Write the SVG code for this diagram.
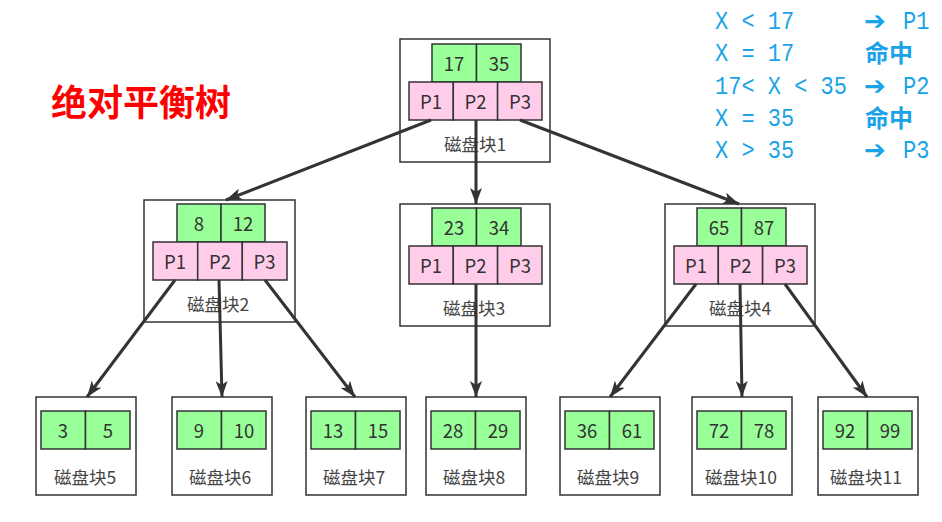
<svg xmlns="http://www.w3.org/2000/svg" width="942" height="522" viewBox="0 0 942 522">
<style>
.box{fill:#fff;stroke:#333;stroke-width:1.5}
.k{fill:#99ff99;stroke:#333;stroke-width:1.5}
.p{fill:#ffccea;stroke:#333;stroke-width:1.5}
.t{font-family:"Noto Sans CJK SC","Noto Sans",sans-serif;font-size:18.5px;fill:#333;text-anchor:middle;dominant-baseline:central}
.lb{font-family:"Noto Sans CJK SC","Noto Sans",sans-serif;font-size:17.5px;fill:#444;text-anchor:middle;dominant-baseline:central}
.c{stroke:#333;stroke-width:3;fill:none;marker-end:url(#ah)}
.lg{font-family:"Liberation Mono",monospace;font-size:22px;fill:#1aa3e8}
.ar{font-family:"DejaVu Sans",sans-serif;font-size:26px;fill:#1aa3e8}
.hz{font-family:"Noto Sans CJK SC",sans-serif;font-size:24px;font-weight:bold;fill:#1aa3e8}
</style>
<defs>
<marker id="ah" markerUnits="userSpaceOnUse" markerWidth="18" markerHeight="12" refX="16" refY="6" orient="auto">
<path d="M0,0 L16,6 L0,12 L4,6 z" fill="#333"/>
</marker>
</defs>
<rect width="942" height="522" fill="#fff"/>
<text x="51" y="116" font-family="Noto Sans CJK SC,sans-serif" font-size="36" font-weight="bold" fill="#ff0000">绝对平衡树</text>
<g id="legend">
<text class="lg" transform="translate(715,29) scale(1,1.15)" xml:space="preserve">X &lt; 17</text>
<text class="ar" x="864" y="30">➔</text>
<text class="lg" transform="translate(903,29) scale(1,1.15)">P1</text>
<text class="lg" transform="translate(715,61) scale(1,1.15)" xml:space="preserve">X = 17</text>
<text class="hz" x="865" y="62">命中</text>
<text class="lg" transform="translate(715,94) scale(1,1.15)" xml:space="preserve">17&lt; X &lt; 35</text>
<text class="ar" x="864" y="95">➔</text>
<text class="lg" transform="translate(903,94) scale(1,1.15)">P2</text>
<text class="lg" transform="translate(715,126) scale(1,1.15)" xml:space="preserve">X = 35</text>
<text class="hz" x="865" y="127">命中</text>
<text class="lg" transform="translate(715,158) scale(1,1.15)" xml:space="preserve">X &gt; 35</text>
<text class="ar" x="864" y="159">➔</text>
<text class="lg" transform="translate(903,158) scale(1,1.15)">P3</text>
</g>
<g id="node1">
<rect class="box" x="400" y="39" width="150" height="123"/>
<rect class="k" x="432" y="44" width="44.5" height="38"/><rect class="k" x="476.5" y="44" width="44.5" height="38"/>
<rect class="p" x="409" y="82" width="44.3" height="38"/><rect class="p" x="453.3" y="82" width="44.3" height="38"/><rect class="p" x="497.6" y="82" width="44.4" height="38"/>
<text class="t" x="454" y="63">17</text><text class="t" x="499" y="63">35</text>
<text class="t" x="431" y="101">P1</text><text class="t" x="475.5" y="101">P2</text><text class="t" x="520" y="101">P3</text>
<text class="lb" x="475" y="143">磁盘块1</text>
</g>
<g id="node2">
<rect class="box" x="144" y="200" width="151" height="122"/>
<rect class="k" x="177" y="204" width="44" height="38"/><rect class="k" x="221" y="204" width="44" height="38"/>
<rect class="p" x="153" y="242" width="44.7" height="38"/><rect class="p" x="197.7" y="242" width="44.6" height="38"/><rect class="p" x="242.3" y="242" width="44.7" height="38"/>
<text class="t" x="199" y="223">8</text><text class="t" x="243" y="223">12</text>
<text class="t" x="175" y="261">P1</text><text class="t" x="220" y="261">P2</text><text class="t" x="264.5" y="261">P3</text>
<text class="lb" x="218" y="303">磁盘块2</text>
</g>
<g id="node3">
<rect class="box" x="400" y="204" width="150" height="122"/>
<rect class="k" x="432" y="208" width="44.5" height="38"/><rect class="k" x="476.5" y="208" width="44.5" height="38"/>
<rect class="p" x="409" y="246" width="44.3" height="38"/><rect class="p" x="453.3" y="246" width="44.3" height="38"/><rect class="p" x="497.6" y="246" width="44.4" height="38"/>
<text class="t" x="454" y="227">23</text><text class="t" x="499" y="227">34</text>
<text class="t" x="431" y="265">P1</text><text class="t" x="475.5" y="265">P2</text><text class="t" x="520" y="265">P3</text>
<text class="lb" x="474" y="307">磁盘块3</text>
</g>
<g id="node4">
<rect class="box" x="665" y="204" width="150" height="122"/>
<rect class="k" x="697" y="208" width="44.5" height="38"/><rect class="k" x="741.5" y="208" width="44.5" height="38"/>
<rect class="p" x="674" y="246" width="44.3" height="38"/><rect class="p" x="718.3" y="246" width="44.3" height="38"/><rect class="p" x="762.6" y="246" width="44.4" height="38"/>
<text class="t" x="719" y="227">65</text><text class="t" x="764" y="227">87</text>
<text class="t" x="696" y="265">P1</text><text class="t" x="740.5" y="265">P2</text><text class="t" x="785" y="265">P3</text>
<text class="lb" x="740" y="307">磁盘块4</text>
</g>
<g id="leaf5">
<rect class="box" x="36" y="397" width="100" height="98"/>
<rect class="k" x="41" y="411" width="44.5" height="38"/><rect class="k" x="85.5" y="411" width="44.5" height="38"/>
<text class="t" x="63" y="430">3</text><text class="t" x="108" y="430">5</text>
<text class="lb" x="85" y="476">磁盘块5</text>
</g>
<g id="leaf6">
<rect class="box" x="172" y="397" width="100" height="98"/>
<rect class="k" x="177" y="411" width="44.5" height="38"/><rect class="k" x="221.5" y="411" width="44.5" height="38"/>
<text class="t" x="199" y="430">9</text><text class="t" x="244" y="430">10</text>
<text class="lb" x="220" y="476">磁盘块6</text>
</g>
<g id="leaf7">
<rect class="box" x="306" y="397" width="100" height="98"/>
<rect class="k" x="311" y="411" width="44.5" height="38"/><rect class="k" x="355.5" y="411" width="44.5" height="38"/>
<text class="t" x="333" y="430">13</text><text class="t" x="378" y="430">15</text>
<text class="lb" x="354" y="476">磁盘块7</text>
</g>
<g id="leaf8">
<rect class="box" x="426" y="397" width="100" height="98"/>
<rect class="k" x="431" y="411" width="44.5" height="38"/><rect class="k" x="475.5" y="411" width="44.5" height="38"/>
<text class="t" x="453" y="430">28</text><text class="t" x="498" y="430">29</text>
<text class="lb" x="474" y="476">磁盘块8</text>
</g>
<g id="leaf9">
<rect class="box" x="560" y="397" width="100" height="98"/>
<rect class="k" x="565" y="411" width="44.5" height="38"/><rect class="k" x="609.5" y="411" width="44.5" height="38"/>
<text class="t" x="587" y="430">36</text><text class="t" x="632" y="430">61</text>
<text class="lb" x="608" y="476">磁盘块9</text>
</g>
<g id="leaf10">
<rect class="box" x="692" y="397" width="100" height="98"/>
<rect class="k" x="697" y="411" width="44.5" height="38"/><rect class="k" x="741.5" y="411" width="44.5" height="38"/>
<text class="t" x="719" y="430">72</text><text class="t" x="764" y="430">78</text>
<text class="lb" x="741" y="476">磁盘块10</text>
</g>
<g id="leaf11">
<rect class="box" x="818" y="397" width="100" height="98"/>
<rect class="k" x="823" y="411" width="44.5" height="38"/><rect class="k" x="867.5" y="411" width="44.5" height="38"/>
<text class="t" x="845" y="430">92</text><text class="t" x="890" y="430">99</text>
<text class="lb" x="866" y="476">磁盘块11</text>
</g>
<g id="connectors">
<line class="c" x1="431" y1="120" x2="226" y2="200"/>
<line class="c" x1="476" y1="120" x2="476" y2="204"/>
<line class="c" x1="520" y1="120" x2="739" y2="204"/>
<line class="c" x1="175" y1="280" x2="87" y2="397"/>
<line class="c" x1="219" y1="280" x2="222" y2="397"/>
<line class="c" x1="265" y1="280" x2="355" y2="397"/>
<line class="c" x1="476" y1="284" x2="476" y2="397"/>
<line class="c" x1="696" y1="284" x2="610" y2="397"/>
<line class="c" x1="740" y1="284" x2="742" y2="397"/>
<line class="c" x1="785" y1="284" x2="867" y2="397"/>
</g>
</svg>
